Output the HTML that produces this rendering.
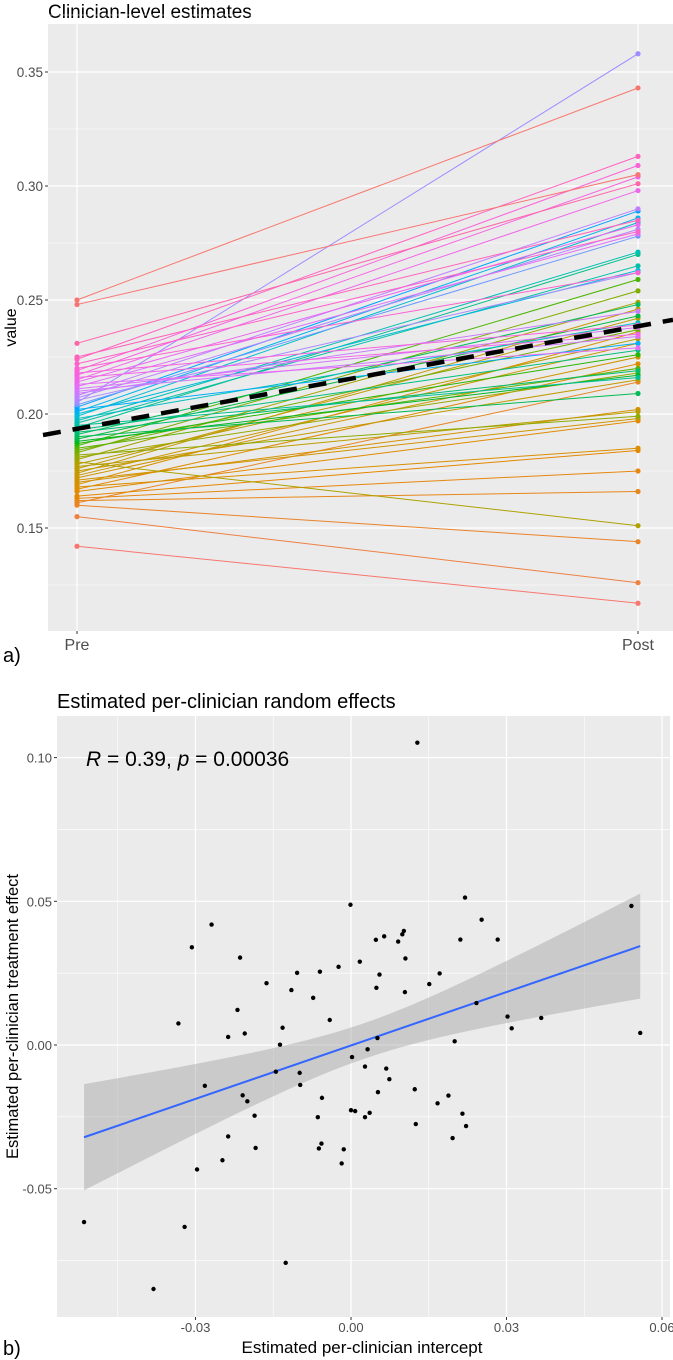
<!DOCTYPE html>
<html><head><meta charset="utf-8"><style>
html,body{margin:0;padding:0;background:#fff;}
svg{display:block;font-family:"Liberation Sans","DejaVu Sans",sans-serif;}
</style></head><body>
<svg id="root" width="673" height="1360" viewBox="0 0 673 1360" xmlns="http://www.w3.org/2000/svg">
<g id="topPanel"></g>
<g id="botPanel"></g>
</svg>
<script>
// ---------- Panel a data ----------
const preValues = [0.142,0.155,0.160,0.161,0.162,0.163,0.164,0.166,0.167,0.168,0.169,0.170,0.171,0.172,0.173,0.174,0.175,0.176,0.177,0.178,0.179,0.180,0.181,0.182,0.183,0.184,0.185,0.186,0.187,0.188,0.189,0.190,0.191,0.192,0.193,0.194,0.195,0.196,0.197,0.198,0.199,0.200,0.201,0.202,0.203,0.204,0.205,0.206,0.207,0.208,0.209,0.210,0.211,0.212,0.213,0.214,0.215,0.216,0.217,0.218,0.219,0.220,0.222,0.224,0.225,0.231,0.248,0.250];
const postValues = [0.117,0.126,0.144,0.214,0.166,0.175,0.184,0.197,0.222,0.185,0.236,0.202,0.198,0.225,0.231,0.246,0.215,0.242,0.201,0.233,0.151,0.249,0.218,0.199,0.254,0.237,0.220,0.259,0.226,0.217,0.243,0.209,0.248,0.219,0.228,0.270,0.216,0.265,0.271,0.240,0.284,0.263,0.286,0.231,0.289,0.278,0.358,0.262,0.281,0.290,0.245,0.234,0.238,0.279,0.229,0.283,0.298,0.235,0.304,0.239,0.309,0.262,0.280,0.313,0.285,0.301,0.305,0.343];
const timeCategories = ["Pre","Post"];
const trendValues = [0.1935, 0.2385];
const topYTicks = [0.15,0.20,0.25,0.30,0.35];
const topYTickLabels = ["0.15","0.20","0.25","0.30","0.35"];

// ---------- Panel b data (thousandths) ----------
const interceptMilli = [12.8,22.0,-0.1,54.1,25.2,-26.9,10.2,9.9,9.1,21.1,28.3,4.8,6.4,-30.7,10.5,-21.4,1.7,-2.4,-10.4,-6.0,5.5,17.1,-16.3,-11.5,4.9,15.1,10.4,-7.3,24.2,-21.9,-4.1,-33.3,30.2,36.7,31.0,-23.7,-20.5,-13.2,5.1,55.8,-13.7,20.0,3.2,0.2,-14.5,-9.9,2.7,6.8,-28.2,-9.8,7.4,12.3,-20.9,-20.0,-5.6,5.2,18.8,16.7,-18.6,-6.4,0.0,0.8,2.7,3.6,21.5,12.5,22.2,-23.7,19.6,-18.4,-6.2,-5.7,-1.4,-24.8,-29.7,-1.8,-51.5,-32.1,-12.6,-38.1];
const effectMilli = [105.2,51.3,48.8,48.4,43.6,41.9,39.7,38.5,36.0,36.7,36.7,36.6,37.8,34.0,30.1,30.4,29.0,27.2,25.1,25.5,24.5,24.9,21.5,19.1,19.9,21.2,18.4,16.4,14.6,12.2,8.7,7.5,9.9,9.4,5.8,2.8,4.0,6.0,2.4,4.2,0.1,1.3,-1.5,-4.2,-9.3,-9.7,-7.5,-8.2,-14.2,-13.9,-11.9,-15.4,-17.5,-19.6,-18.4,-16.4,-17.6,-20.3,-24.6,-25.1,-22.7,-23.0,-25.1,-23.6,-23.9,-27.5,-28.2,-31.8,-32.4,-35.8,-36.0,-34.3,-36.3,-40.1,-43.3,-41.2,-61.6,-63.3,-75.8,-84.9];
const fitCoefs = [-0.17, 0.62];
const fitSeParams = [2.5, 38.4, 0.104];
const botXTicks = [-0.03,0.00,0.03,0.06];
const botXTickLabels = ["-0.03","0.00","0.03","0.06"];
const botYTicks = [-0.05,0.00,0.05,0.10];
const botYTickLabels = ["-0.05","0.00","0.05","0.10"];
const annotationText = ["R"," = 0.39, ","p"," = 0.00036"];

const NS="http://www.w3.org/2000/svg";
function mk(parent,tag,attrs,text){const el=document.createElementNS(NS,tag);for(const k in attrs)el.setAttribute(k,attrs[k]);if(text!==undefined)el.textContent=text;parent.appendChild(el);return el;}

// ggplot-like hcl colour
function hcl(h,c,l){
 const hr=h*Math.PI/180,u=c*Math.cos(hr),v=c*Math.sin(hr);
 const Y=100*Math.pow((l+16)/116,3);
 const un=0.1978398,vn=0.4683363;
 const up=u/(13*l)+un,vp=v/(13*l)+vn;
 const X=Y*9*up/(4*vp),Z=Y*(12-3*up-20*vp)/(4*vp);
 const x=X/100,y=Y/100,z=Z/100;
 let r=3.2404542*x-1.5371385*y-0.4985314*z,g=-0.9692660*x+1.8760108*y+0.0415560*z,b=0.0556434*x-0.2040259*y+1.0572252*z;
 const gm=t=>{t=Math.max(0,Math.min(1,t));return Math.round(255*(t<=0.0031308?12.92*t:1.055*Math.pow(t,1/2.4)-0.055));};
 return `rgb(${gm(r)},${gm(g)},${gm(b)})`;
}
const hueKnots=[[0.142,15],[0.165,40],[0.178,75],[0.186,120],[0.195,170],[0.200,210],[0.205,270],[0.215,310],[0.225,340],[0.25,375]];
function hueFor(p){for(let k=1;k<hueKnots.length;k++){if(p<=hueKnots[k][0]){const a=hueKnots[k-1],b=hueKnots[k];return a[1]+(b[1]-a[1])*(p-a[0])/(b[0]-a[0]);}}return 375;}

// ===== Panel a =====
const panelA=document.getElementById('topPanel');
const A={l:48,r:673,t:24,b:631};
const ya=v=>72+(0.35-v)/0.05*114;
const xa=i=>[77,638][i];
let e=mk(panelA,'text',{x:48,y:18,'font-size':19,fill:'#000'},'Clinician-level estimates');


e=mk(panelA,'rect',{x:A.l,y:A.t,width:A.r-A.l,height:A.b-A.t,fill:'#ebebeb'});


for(let i=0;i<topYTicks.length+1;i++){const v=0.125+i*0.05;mk(panelA,'line',{x1:A.l,x2:A.r,y1:ya(v),y2:ya(v),stroke:'#fff','stroke-width':0.6});}
topYTicks.forEach((v,i)=>{
 mk(panelA,'line',{x1:A.l,x2:A.r,y1:ya(v),y2:ya(v),stroke:'#fff','stroke-width':1.2});
 mk(panelA,'line',{x1:A.l-3,x2:A.l,y1:ya(v),y2:ya(v),stroke:'#333','stroke-width':1});
 const t=mk(panelA,'text',{x:A.l-5,y:ya(v)+5,'text-anchor':'end','font-size':13.5,fill:'#4d4d4d'},topYTickLabels[i]);
 
 
});
timeCategories.forEach((c,i)=>{
 mk(panelA,'line',{x1:xa(i),x2:xa(i),y1:A.t,y2:A.b,stroke:'#fff','stroke-width':1.2});
 mk(panelA,'line',{x1:xa(i),x2:xa(i),y1:A.b,y2:A.b+3,stroke:'#333','stroke-width':1});
 const t=mk(panelA,'text',{x:xa(i),y:A.b+19,'text-anchor':'middle','font-size':16,fill:'#4d4d4d'},c);
 
 
});
const n=preValues.length;
for(let i=0;i<n;i++){
 const col=hcl(hueFor(preValues[i]),100,65);
 const g=mk(panelA,'g',{});
 
 
 mk(g,'line',{x1:xa(0),y1:ya(preValues[i]),x2:xa(1),y2:ya(postValues[i]),stroke:col,'stroke-width':1});
 mk(g,'circle',{cx:xa(0),cy:ya(preValues[i]),r:2.6,fill:col});
 mk(g,'circle',{cx:xa(1),cy:ya(postValues[i]),r:2.6,fill:col});
}
{const s=(trendValues[1]-trendValues[0])/(xa(1)-xa(0));
 const yAt=x=>ya(trendValues[0]+s*(x-xa(0)));
 e=mk(panelA,'line',{x1:A.l-5,y1:yAt(A.l-5),x2:A.r,y2:yAt(A.r),stroke:'#000','stroke-width':4.5,'stroke-dasharray':'18,12'});
 
 }
e=mk(panelA,'text',{x:0,y:0,transform:`translate(16,${(A.t+A.b)/2}) rotate(-90)`,'text-anchor':'middle','font-size':16,fill:'#000'},'value');


e=mk(panelA,'text',{x:3,y:662,'font-size':20,fill:'#000'},'a)');



// ===== Panel b =====
const panelB=document.getElementById('botPanel');
const B={l:57,r:670,t:716,b:1317};
const xb=v=>351+v/0.03*155.5;
const yb=v=>1045-v/0.05*143.7;
e=mk(panelB,'text',{x:57,y:708,'font-size':20,fill:'#000'},'Estimated per-clinician random effects');


e=mk(panelB,'rect',{x:B.l,y:B.t,width:B.r-B.l,height:B.b-B.t,fill:'#ebebeb'});


[-0.075,-0.025,0.025,0.075].forEach(v=>mk(panelB,'line',{x1:B.l,x2:B.r,y1:yb(v),y2:yb(v),stroke:'#fff','stroke-width':0.6}));
[-0.045,-0.015,0.015,0.045].forEach(v=>mk(panelB,'line',{x1:xb(v),x2:xb(v),y1:B.t,y2:B.b,stroke:'#fff','stroke-width':0.6}));
botYTicks.forEach((v,i)=>{
 mk(panelB,'line',{x1:B.l,x2:B.r,y1:yb(v),y2:yb(v),stroke:'#fff','stroke-width':1.2});
 mk(panelB,'line',{x1:B.l-3,x2:B.l,y1:yb(v),y2:yb(v),stroke:'#333','stroke-width':1});
 const t=mk(panelB,'text',{x:B.l-5,y:yb(v)+5,'text-anchor':'end','font-size':13,fill:'#4d4d4d'},botYTickLabels[i]);
 
 
});
botXTicks.forEach((v,i)=>{
 mk(panelB,'line',{x1:xb(v),x2:xb(v),y1:B.t,y2:B.b,stroke:'#fff','stroke-width':1.2});
 mk(panelB,'line',{x1:xb(v),x2:xb(v),y1:B.b,y2:B.b+3,stroke:'#333','stroke-width':1});
 const t=mk(panelB,'text',{x:xb(v),y:B.b+15,'text-anchor':'middle','font-size':13,fill:'#4d4d4d'},botXTickLabels[i]);
 
 
});
{const xmin=Math.min(...interceptMilli),xmax=Math.max(...interceptMilli);
 const fit=x=>fitCoefs[0]+fitCoefs[1]*x;
 const hw=x=>Math.sqrt(fitSeParams[1]+fitSeParams[2]*(x-fitSeParams[0])**2);
 let up=[],lo=[];
 for(let k=0;k<=60;k++){const x=xmin+(xmax-xmin)*k/60;up.push(`${xb(x/1000)},${yb((fit(x)+hw(x))/1000)}`);lo.unshift(`${xb(x/1000)},${yb((fit(x)-hw(x))/1000)}`);}
 e=mk(panelB,'polygon',{points:up.concat(lo).join(' '),fill:'#999','fill-opacity':0.4});
 
 
 e=mk(panelB,'line',{x1:xb(xmin/1000),y1:yb(fit(xmin)/1000),x2:xb(xmax/1000),y2:yb(fit(xmax)/1000),stroke:'#3366ff','stroke-width':2});
 
 }
for(let i=0;i<interceptMilli.length;i++){
 const c=mk(panelB,'circle',{cx:xb(interceptMilli[i]/1000),cy:yb(effectMilli[i]/1000),r:2.2,fill:'#000'});
 
 
}
e=mk(panelB,'text',{x:86,y:766,'font-size':21,fill:'#000'});


annotationText.forEach((s,i)=>{mk(e,'tspan',(i%2===0)?{'font-style':'italic'}:{},s);});
e=mk(panelB,'text',{x:0,y:0,transform:`translate(18,${(B.t+B.b)/2}) rotate(-90)`,'text-anchor':'middle','font-size':16.5,fill:'#000'},'Estimated per-clinician treatment effect');


e=mk(panelB,'text',{x:362,y:1353,'text-anchor':'middle','font-size':17,fill:'#000'},'Estimated per-clinician intercept');


e=mk(panelB,'text',{x:3,y:1355,'font-size':20,fill:'#000'},'b)');


</script>
</body></html>
